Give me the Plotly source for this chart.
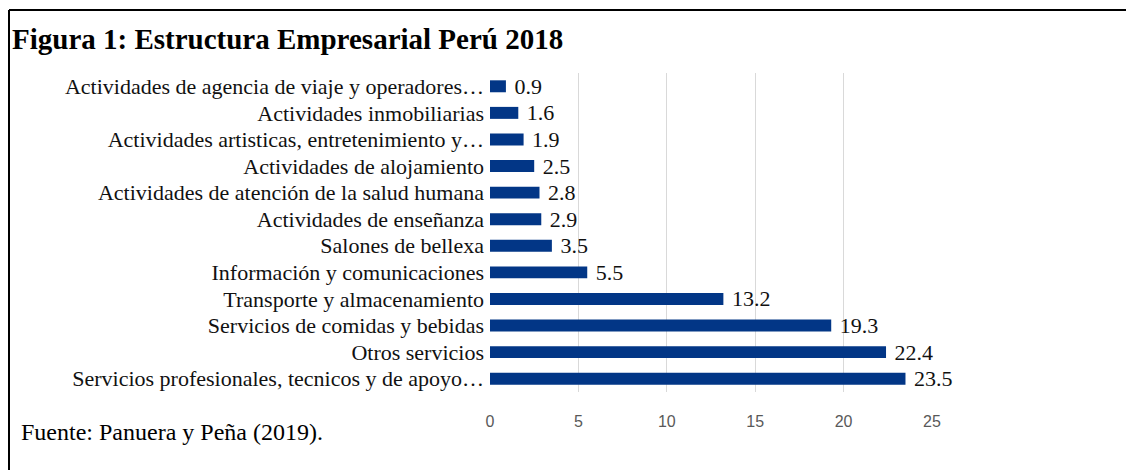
import plotly.graph_objects as go

categorias = [
    "Servicios profesionales, tecnicos y de apoyo…",
    "Otros servicios",
    "Servicios de comidas y bebidas",
    "Transporte y almacenamiento",
    "Información y comunicaciones",
    "Salones de bellexa",
    "Actividades de enseñanza",
    "Actividades de atención de la salud humana",
    "Actividades de alojamiento",
    "Actividades artisticas, entretenimiento y…",
    "Actividades inmobiliarias",
    "Actividades de agencia de viaje y operadores…",
]
valores = [23.5, 22.4, 19.3, 13.2, 5.5, 3.5, 2.9, 2.8, 2.5, 1.9, 1.6, 0.9]
ticks_x = [0, 5, 10, 15, 20, 25]

# page puts the figure 8px in from the top-left corner
OFF = 8
W, H = 1134 - OFF, 470 - OFF
L, R, T, B = 490 - OFF, 1134 - 932, 73 - OFF, 78
pw, ph = W - L - R, H - T - B


def px_x(x):
    return (x - OFF - L) / pw


def px_y(y):
    return (H - B - (y - OFF)) / ph


SERIF = "Liberation Serif, Times New Roman, serif"

fig = go.Figure(
    go.Bar(
        x=valores,
        y=categorias,
        orientation="h",
        marker=dict(color="#023686", line=dict(width=0)),
        width=0.45,
        text=[f"\u00a0{v:.1f}" for v in valores],
        textposition="outside",
        constraintext="none",
        textfont=dict(family=SERIF, size=22, color="#111111"),
        cliponaxis=False,
    )
)

fig.update_layout(
    width=W,
    height=H,
    margin=dict(l=L, r=R, t=T, b=B),
    paper_bgcolor="white",
    plot_bgcolor="white",
    showlegend=False,
    xaxis=dict(
        range=[0, 25],
        tickvals=ticks_x,
        showgrid=True,
        gridcolor="#d9d9d9",
        gridwidth=1,
        zeroline=False,
        showline=False,
        ticks="outside",
        ticklen=15,
        tickcolor="rgba(0,0,0,0)",
        tickfont=dict(family="Liberation Sans Narrow, Arial Narrow, sans-serif", size=16, color="#595959"),
        fixedrange=True,
    ),
    yaxis=dict(
        categoryorder="array",
        categoryarray=categorias,
        tickmode="array",
        tickvals=categorias,
        ticktext=categorias,
        ticklabelstandoff=5,
        showgrid=False,
        showline=False,
        ticks="",
        tickfont=dict(family=SERIF, size=22, color="#111111"),
        fixedrange=True,
    ),
    shapes=[
        dict(type="line", xref="paper", yref="paper",
             x0=px_x(9), x1=px_x(1140), y0=px_y(10), y1=px_y(10),
             line=dict(color="black", width=2)),
        dict(type="line", xref="paper", yref="paper",
             x0=px_x(9), x1=px_x(9), y0=px_y(10), y1=px_y(475),
             line=dict(color="black", width=2)),
    ],
    annotations=[
        dict(text="<b>Figura 1: Estructura Empresarial Perú 2018</b>",
             xref="paper", yref="paper", x=px_x(10), y=px_y(39),
             xanchor="left", yanchor="middle", showarrow=False,
             font=dict(family=SERIF, size=29, color="black")),
        dict(text="Fuente: Panuera y Peña (2019).",
             xref="paper", yref="paper", x=px_x(19), y=px_y(432),
             xanchor="left", yanchor="middle", showarrow=False,
             font=dict(family=SERIF, size=24, color="black")),
    ],
)

fig.write_html("out.html")
